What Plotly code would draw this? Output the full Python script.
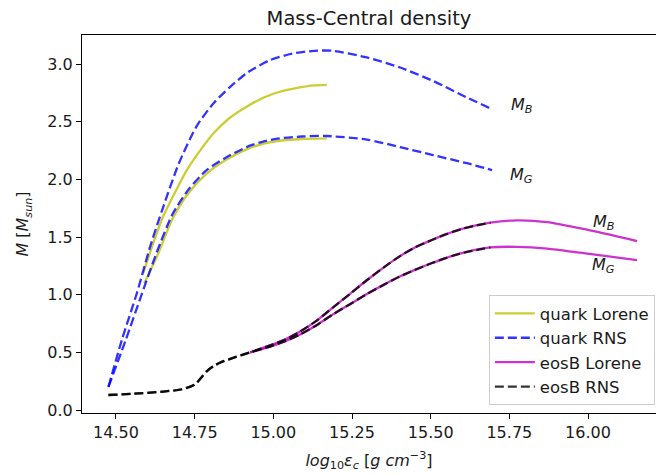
import plotly.graph_objects as go

# quark RNS
qr_mb_x = [14.476, 14.52, 14.566, 14.61, 14.65, 14.70, 14.756, 14.81, 14.862, 14.92, 14.99, 15.06, 15.13, 15.19, 15.297, 15.403, 15.508, 15.615, 15.686]
qr_mb_y = [0.20, 0.62, 1.01, 1.43, 1.76, 2.14, 2.46, 2.66, 2.80, 2.93, 3.035, 3.09, 3.115, 3.115, 3.057, 2.97, 2.853, 2.71, 2.62]
qr_mg_x = [14.476, 14.53, 14.58, 14.63, 14.68, 14.73, 14.788, 14.85, 14.915, 14.97, 15.02, 15.09, 15.17, 15.297, 15.403, 15.508, 15.615, 15.695]
qr_mg_y = [0.20, 0.60, 0.99, 1.37, 1.70, 1.91, 2.08, 2.19, 2.28, 2.33, 2.356, 2.372, 2.376, 2.345, 2.28, 2.21, 2.14, 2.08]
# quark Lorene
ql_mb_x = [14.587, 14.62, 14.65, 14.69, 14.725, 14.77, 14.81, 14.86, 14.915, 14.97, 15.02, 15.08, 15.13, 15.17]
ql_mb_y = [1.19, 1.46, 1.68, 1.90, 2.08, 2.26, 2.40, 2.53, 2.63, 2.71, 2.76, 2.795, 2.815, 2.82]
ql_mg_x = [14.59, 14.63, 14.68, 14.73, 14.788, 14.85, 14.915, 14.97, 15.02, 15.09, 15.17]
ql_mg_y = [1.10, 1.33, 1.66, 1.88, 2.05, 2.17, 2.26, 2.31, 2.335, 2.35, 2.355]
# eosB RNS
er_x = [14.476, 14.55, 14.65, 14.71, 14.75, 14.79, 14.81, 14.83, 14.87, 14.926, 14.99, 15.04, 15.085, 15.14, 15.19, 15.245, 15.297, 15.35, 15.40, 15.45, 15.50, 15.55, 15.605, 15.69]
er_mb_y = [0.13, 0.14, 0.16, 0.18, 0.22, 0.34, 0.38, 0.41, 0.45, 0.50, 0.56, 0.615, 0.68, 0.78, 0.89, 1.01, 1.125, 1.235, 1.33, 1.41, 1.47, 1.525, 1.575, 1.625]
er_mg_y = [0.13, 0.14, 0.16, 0.18, 0.22, 0.34, 0.38, 0.41, 0.45, 0.50, 0.55, 0.60, 0.655, 0.74, 0.83, 0.92, 1.005, 1.085, 1.155, 1.215, 1.27, 1.32, 1.365, 1.41]
# eosB Lorene
el_x = [14.926, 14.99, 15.04, 15.085, 15.14, 15.19, 15.245, 15.297, 15.35, 15.40, 15.45, 15.50, 15.55, 15.605, 15.69, 15.775, 15.87, 15.986, 16.156]
el_mb_y = [0.50, 0.56, 0.615, 0.68, 0.78, 0.89, 1.01, 1.125, 1.235, 1.33, 1.41, 1.47, 1.525, 1.575, 1.625, 1.645, 1.63, 1.57, 1.465]
el_mg_y = [0.50, 0.55, 0.60, 0.655, 0.74, 0.83, 0.92, 1.005, 1.085, 1.155, 1.215, 1.27, 1.32, 1.365, 1.41, 1.415, 1.40, 1.36, 1.30]

labels = ["quark Lorene", "quark RNS", "eosB Lorene", "eosB RNS"]
colors = ["rgba(191,191,0,0.8)", "rgba(0,0,255,0.8)", "rgba(191,0,191,0.8)", "rgba(0,0,0,0.8)"]

ann_text = ["<i>M<sub>B</sub></i>", "<i>M<sub>G</sub></i>", "<i>M<sub>B</sub></i>", "<i>M<sub>G</sub></i>"]
ann_x = [15.79, 15.79, 16.05, 16.05]
ann_y = [2.64, 2.03, 1.63, 1.25]

series = [
    (labels[0], colors[0], "solid", [(ql_mb_x, ql_mb_y), (ql_mg_x, ql_mg_y)]),
    (labels[1], colors[1], "9px,4px", [(qr_mb_x, qr_mb_y), (qr_mg_x, qr_mg_y)]),
    (labels[2], colors[2], "solid", [(el_x, el_mb_y), (el_x, el_mg_y)]),
    (labels[3], colors[3], "9px,4px", [(er_x, er_mb_y), (er_x, er_mg_y)]),
]

fig = go.Figure()
for name, col, dash, curves in series:
    for i, (xs, ys) in enumerate(curves):
        fig.add_trace(go.Scatter(
            x=xs, y=ys, mode="lines", name=name, legendgroup=name,
            showlegend=(i == 0),
            line=dict(color=col, width=2.3, dash=dash, shape="spline", smoothing=0.7),
        ))

for t, x, y in zip(ann_text, ann_x, ann_y):
    fig.add_annotation(x=x, y=y, text=t, showarrow=False,
                       font=dict(size=16, color="#1a1a1a"))

axis_common = dict(showline=True, linecolor="black", linewidth=1,
                   ticks="outside", ticklen=5, tickcolor="black", showgrid=False,
                   zeroline=False, tickfont=dict(size=16, color="#1a1a1a"))

fig.update_layout(
    width=656, height=475,
    margin=dict(l=82, r=0, t=35, b=62),
    paper_bgcolor="white", plot_bgcolor="white",
    font=dict(family="DejaVu Sans", color="#1a1a1a"),
    title=dict(text="Mass-Central density", x=0.5, xref="paper", xanchor="center",
               y=0.962, yref="container", yanchor="middle",
               font=dict(size=19.5, color="#1a1a1a")),
    xaxis=dict(range=[14.392, 16.216], tickvals=[14.5, 14.75, 15.0, 15.25, 15.5, 15.75, 16.0],
               tickformat=".2f", mirror=True,
               title=dict(text="<i>log</i><sub>10</sub><i>ε<sub>c</sub></i> [<i>g cm</i><sup>−3</sup>]",
                          font=dict(size=16), standoff=13),
               **axis_common),
    yaxis=dict(range=[-0.026, 3.252], tickvals=[0, 0.5, 1.0, 1.5, 2.0, 2.5, 3.0], tickformat=".1f",
               mirror=False,
               title=dict(text="<i>M</i> [<i>M<sub>sun</sub></i>]", font=dict(size=16), standoff=14),
               **axis_common),
    legend=dict(x=0.998, xanchor="right", y=0.021, yanchor="bottom",
                bgcolor="rgba(255,255,255,0.8)", bordercolor="#cccccc", borderwidth=1,
                font=dict(size=16.5, color="#1a1a1a"), tracegroupgap=0, itemwidth=40),
    showlegend=True,
)

fig.write_html("out.html")
